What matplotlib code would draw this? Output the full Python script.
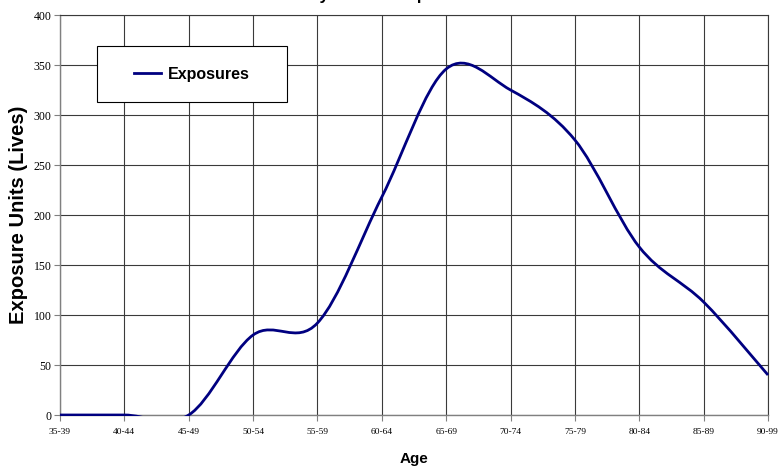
import numpy as np
import matplotlib.pyplot as plt
from matplotlib.path import Path
from matplotlib.patches import PathPatch, Rectangle
from matplotlib.lines import Line2D

# Data (one value per age group)
age_groups = ["35-39", "40-44", "45-49", "50-54", "55-59", "60-64",
              "65-69", "70-74", "75-79", "80-84", "85-89", "90-99"]
exposures = [0, 0, 0, 80, 92, 218, 346, 325, 275, 168, 113, 40]
y_ticks = [0, 50, 100, 150, 200, 250, 300, 350, 400]

line_color = "#000080"
grid_color = "#3a3a3a"
axis_color = "#808080"


# Excel style smoothed line: cubic bezier segments through the points
def smooth_path(xs, ys):
    pts = np.column_stack([xs, ys]).astype(float)
    n = len(pts)
    verts = [pts[0]]
    codes = [Path.MOVETO]
    for i in range(n - 1):
        p_prev = pts[max(i - 1, 0)]
        p0 = pts[i]
        p1 = pts[i + 1]
        p_next = pts[min(i + 2, n - 1)]
        c1 = p0 + (p1 - p_prev) / 6.0
        c2 = p1 - (p_next - p0) / 6.0
        verts += [c1, c2, p1]
        codes += [Path.CURVE4] * 3
    return Path(verts, codes)


fig = plt.figure(figsize=(7.81, 4.70), dpi=100)
ax = fig.add_axes([60 / 781, 55 / 470, 708 / 781, 400 / 470])

x = np.arange(len(age_groups))
ax.set_xlim(0, len(age_groups) - 1)
ax.set_ylim(0, 400)

# grid
ax.set_xticks(x)
ax.set_xticklabels(age_groups, family="Liberation Serif", fontsize=6.8)
ax.set_yticks(y_ticks)
ax.set_yticklabels([str(v) for v in y_ticks], family="Liberation Serif", fontsize=8.5)
ax.grid(True, color=grid_color, linewidth=0.8)
ax.set_axisbelow(True)
ax.tick_params(axis="x", direction="out", length=4, width=0.8, color=axis_color, pad=5)
ax.tick_params(axis="y", direction="out", length=4, width=0.8, color=axis_color, pad=2)

for side in ["top", "right"]:
    ax.spines[side].set_color(grid_color)
    ax.spines[side].set_linewidth(0.8)
for side in ["left", "bottom"]:
    ax.spines[side].set_color(axis_color)
    ax.spines[side].set_linewidth(1.0)

# the exposure curve
patch = PathPatch(smooth_path(x, exposures), facecolor="none", edgecolor=line_color,
                  linewidth=2.0, transform=ax.transData, zorder=5)
ax.add_patch(patch)
clip = Rectangle((-0.05, -1.3), len(age_groups), 410, transform=ax.transData)
patch.set_clip_path(clip)

ax.set_xlabel("Age", family="Liberation Sans", fontweight="bold", fontsize=11, labelpad=12)
ax.set_ylabel("Exposure Units (Lives)", family="Liberation Sans", fontweight="bold",
              fontsize=14.5, labelpad=4)

# title sits above the top edge of the picture, only its descenders show
fig.text(0.47, 1.001, "Summary of Total Exposures", ha="center", va="baseline",
         family="Liberation Sans", fontweight="bold", fontsize=12)

# legend box
box = Rectangle((37 / 708, 313 / 400), 190 / 708, 56 / 400, transform=ax.transAxes,
                facecolor="white", edgecolor="black", linewidth=0.8, zorder=6)
ax.add_patch(box)
handle = Line2D([], [], color=line_color, linewidth=2.0)
leg = ax.legend([handle], ["Exposures"], loc="center",
                bbox_to_anchor=(132 / 708, 341 / 400), frameon=False,
                handlelength=1.7, handletextpad=0.4,
                prop={"family": "Liberation Sans", "weight": "bold", "size": 11.5})
leg.set_zorder(7)

fig.savefig("out.png", dpi=100)
